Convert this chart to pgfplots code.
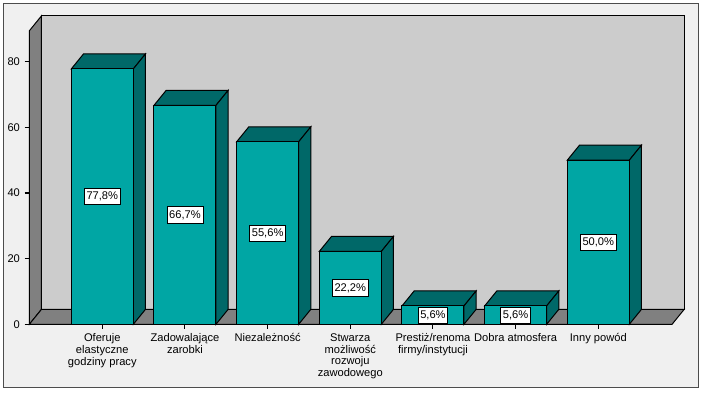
\documentclass[border=0pt]{standalone}
\usepackage{fontspec}
\setmainfont{Liberation Sans}
\usepackage{pgfplots}
\usepackage{pgfplotstable}
\pgfplotsset{compat=1.18}
\definecolor{bg}{RGB}{240,240,240}
\definecolor{wall}{RGB}{204,204,204}
\definecolor{sidegray}{RGB}{128,128,128}
\definecolor{tealf}{RGB}{0,166,164}
\definecolor{teald}{RGB}{0,104,104}

\pgfplotstableread{
x v
0 77.8
1 66.7
2 55.6
3 22.2
4 5.6
5 5.6
6 50.0
}\data

\begin{document}
\begin{tikzpicture}
\useasboundingbox (0,0) rectangle (528pt,296.25pt);
\fill[white] (0,0) rectangle (528pt,296.25pt);
\draw[fill=bg, draw=black!70, line width=0.75pt] (2.475pt,5.775pt) rectangle (524pt,293.8pt);
\begin{axis}[
  at={(21.975pt,53.0pt)}, anchor=south west,
  x=62pt, y=2.462pt,
  xmin=-0.883, xmax=6.892, ymin=0, ymax=89.4,
  axis x line*=bottom, axis y line*=left,
  axis line style={black, line width=0.8pt},
  clip=false,
  tick align=outside,
  major tick length=3.5pt,
  tick style={black, line width=0.8pt},
  ytick={0,20,40,60,80},
  xtick={0,...,6},
  xticklabels={{Oferuje\\elastyczne\\godziny pracy},{Zadowalające\\zarobki},{Niezależność},{Stwarza\\możliwość\\rozwoju\\zawodowego},{Prestiż/renoma\\firmy/instytucji},{Dobra atmosfera},{Inny powód}},
  xticklabel style={align=center},
  ticklabel style={font=\fontsize{8.35}{8.8}\selectfont},
  /pgf/number format/assume math mode=true,
  barface/.style={draw=black, line width=0.75pt},
]
\addplot[fill=wall, draw=black, line width=0.75pt] coordinates {(-0.7355,4.57) (7.0395,4.57) (7.0395,93.97) (-0.7355,93.97)} -- cycle;
\addplot[fill=sidegray, draw=black, line width=0.75pt] coordinates {(-0.883,0) (-0.883,89.4) (-0.7355,93.97) (-0.7355,4.57)} -- cycle;
\addplot[fill=sidegray, draw=black, line width=0.75pt] coordinates {(-0.883,0) (6.892,0) (7.0395,4.57) (-0.7355,4.57)} -- cycle;
\pgfplotsinvokeforeach{0,...,6}{
  \pgfplotstablegetelem{#1}{v}\of\data
  \pgfmathsetmacro\bv{\pgfplotsretval}
  \pgfmathsetmacro\xl{#1-0.375}
  \pgfmathsetmacro\xr{#1+0.375}
  \pgfmathsetmacro\xlb{#1-0.375+0.1475}
  \pgfmathsetmacro\xrb{#1+0.375+0.1475}
  \pgfmathsetmacro\vb{\bv+4.57}
  \edef\temp{\noexpand\addplot[barface, fill=teald] coordinates {(\xl,\bv) (\xr,\bv) (\xrb,\vb) (\xlb,\vb)} -- cycle;
  \noexpand\addplot[barface, fill=teald] coordinates {(\xr,0) (\xr,\bv) (\xrb,\vb) (\xrb,4.57)} -- cycle;
  \noexpand\addplot[barface, fill=tealf] coordinates {(\xl,0) (\xr,0) (\xr,\bv) (\xl,\bv)} -- cycle;}
  \temp
}
\addplot[draw=none, mark=none, point meta=explicit,
  nodes near coords={\pgfmathprintnumber[fixed, fixed zerofill, precision=1, use comma]{\pgfplotspointmeta}\%},
  nodes near coords align=center,
  every node near coord/.append style={anchor=center, fill=white, draw=black, line width=0.5pt, inner xsep=1.6pt, inner ysep=2.6pt, font=\fontsize{8.35}{8.8}\selectfont}]
  table[x=x, y expr=\thisrow{v}/2, meta=v] {\data};
\end{axis}
\end{tikzpicture}
\end{document}
